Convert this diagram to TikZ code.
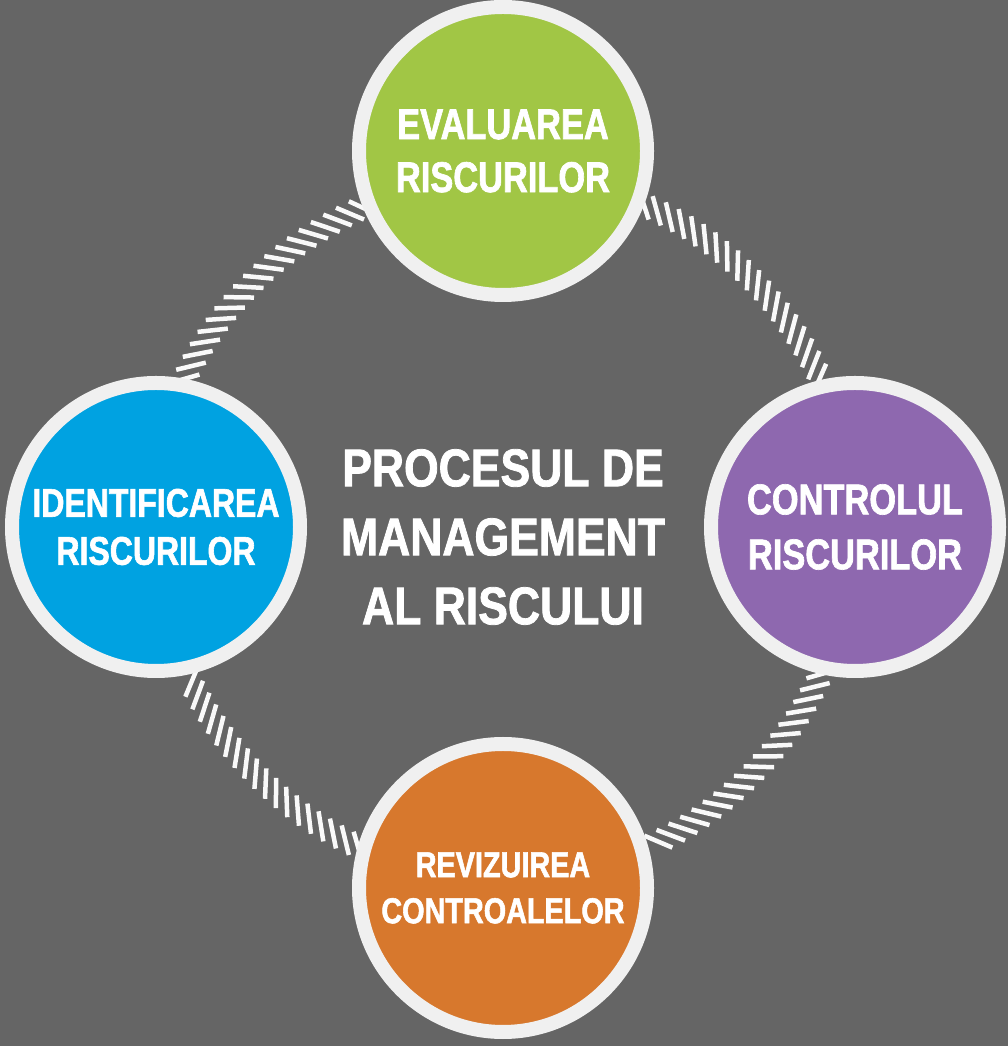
\documentclass[tikz,border=0pt]{standalone}
\usepackage{fontspec}
\newfontfamily\circfont{Liberation Sans}[FakeStretch=0.8, BoldFeatures={FakeBold=1.5}]
\newfontfamily\titlefont{Liberation Sans}[FakeStretch=0.84, BoldFeatures={FakeBold=1.5}]
\usetikzlibrary{backgrounds, decorations.markings}
\definecolor{bggray}{RGB}{101,101,101}
\definecolor{ringwhite}{RGB}{240,240,240}
\definecolor{evalgreen}{RGB}{161,198,69}
\definecolor{identblue}{RGB}{0,162,225}
\definecolor{ctrlpurple}{RGB}{142,104,175}
\definecolor{revorange}{RGB}{215,120,45}
\newcommand{\rfont}[2]{\circfont\bfseries\fontsize{#1}{#2}\selectfont}
\tikzset{
    risk/.style={draw=ringwhite, circle, line width=14pt, minimum size=288pt, inner sep=0pt, text=white, align=center, font=\rfont{40}{48}},
    maintitle/.style={text=white, align=center, font=\titlefont\bfseries\fontsize{53}{69}\selectfont},
    stripe/.style={draw=white!95!gray, line width=4.5pt},
    rope/.style={decorate, decoration={markings, mark=between positions 0 and 1 step 14pt with {\draw[stripe] (-10pt,11.5pt) -- (10pt,-11.5pt);}}} }

\begin{document}
\begin{tikzpicture}
			\useasboundingbox (0,0) rectangle (1008pt,1046pt);
			\coordinate (c) at (503pt,519pt);
			\node[maintitle] (proc) at ([yshift=-10pt]c) {PROCESUL DE\\MANAGEMENT\\AL RISCULUI};
			\node[risk, fill=evalgreen, font=\rfont{43}{53}] (eval) at ([yshift=376pt]c) {EVALUAREA\\RISCURILOR};
			\node[risk, fill=identblue] (ident) at ([xshift=-347pt]c) {IDENTIFICAREA\\RISCURILOR};
			\node[risk, fill=ctrlpurple, font=\rfont{43}{55}] (ctrl) at ([xshift=352pt]c) {CONTROLUL\\RISCURILOR};
			\node[risk, fill=revorange, font=\rfont{36}{46}] (rev) at ([yshift=-361pt]c) {REVIZUIREA\\CONTROALELOR};
			% ----
			\begin{scope}[on background layer]
			\fill[bggray] (0,0) rectangle (1008pt,1046pt);
			\path[rope] (ident.79) to[out=65, in=204, looseness=0.88] (eval.202);
			\path[rope] (eval.339) to[out=-23, in=115, looseness=0.88] (ctrl.103);
			\path[rope] (ctrl.257) to[out=245, in=24, looseness=0.88] (rev.16);
			\path[rope] (rev.164) to[out=155, in=295, looseness=0.88] (ident.282);
			\end{scope}
		\end{tikzpicture}
\end{document}
